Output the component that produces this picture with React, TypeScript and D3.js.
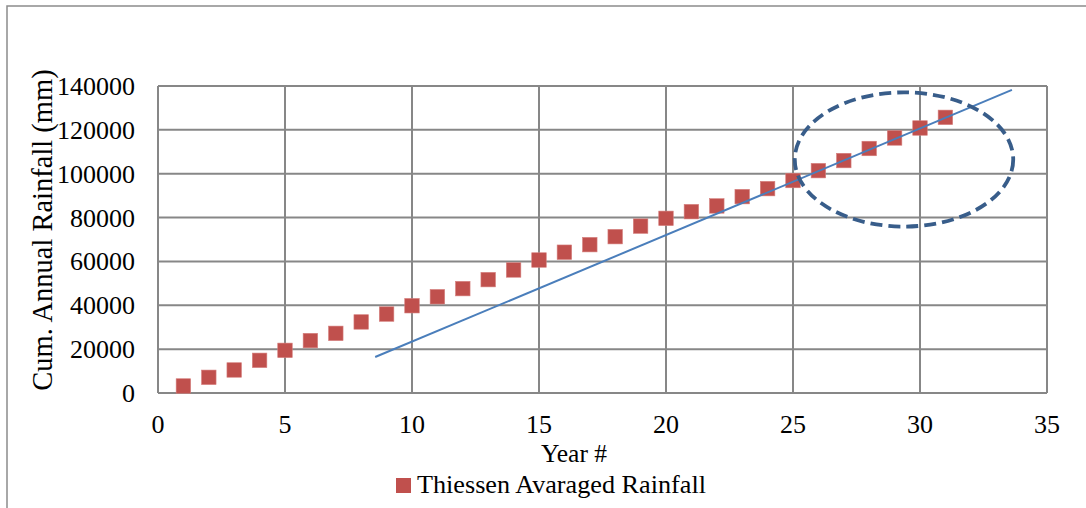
import React, { useEffect, useRef } from "react";
import * as d3 from "d3";

const years: number[] = Array.from({ length: 31 }, (_, i) => i + 1);
const cumRainfall: number[] = [
  3200, 7150, 10500, 14900, 19450, 23900, 27200, 32400, 36000, 39800,
  43900, 47600, 51700, 56100, 60650, 64200, 67650, 71300, 76100, 79650,
  82700, 85300, 89550, 93200, 96900, 101400, 106000, 111500, 116300, 120850,
  125700,
];
const trendX: number[] = [8.55, 33.62];
const trendY: number[] = [16400, 138200];
const ellipseCenter: number[] = [29.37, 106500];
const ellipseRadii: number[] = [4.3, 30600];
const xTicks: number[] = [0, 5, 10, 15, 20, 25, 30, 35];
const yTicks: number[] = [0, 20000, 40000, 60000, 80000, 100000, 120000, 140000];
const seriesName = "Thiessen Avaraged Rainfall";
const xTitle = "Year #";
const yTitle = "Cum. Annual Rainfall (mm)";

const W = 1086;
const H = 508;
const L = 158, R = 1047, T = 86, B = 393;
const FONT = "'Liberation Serif', 'Times New Roman', serif";

export default function App() {
  const ref = useRef<SVGSVGElement>(null);
  useEffect(() => {
    const svg = d3.select(ref.current);
    svg.selectAll("*").remove();
    const x = d3.scaleLinear().domain([0, 35]).range([L, R]);
    const y = d3.scaleLinear().domain([0, 140000]).range([B, T]);

    svg.append("rect").attr("x", 0).attr("y", 0).attr("width", W).attr("height", H).attr("fill", "#fff");
    svg.append("rect").attr("x", 7).attr("y", 6).attr("width", W + 20).attr("height", H + 20)
      .attr("fill", "none").attr("stroke", "#8c8c8c").attr("stroke-width", 1.5);

    const grid = svg.append("g").attr("stroke", "#878787").attr("stroke-width", 2);
    yTicks.forEach((t) => {
      grid.append("line").attr("x1", L).attr("x2", R).attr("y1", y(t)).attr("y2", y(t));
    });
    xTicks.forEach((t) => {
      grid.append("line").attr("x1", x(t)).attr("x2", x(t)).attr("y1", T).attr("y2", B);
    });

    const yl = svg.append("g").attr("font-family", FONT).attr("font-size", 26).attr("fill", "#000");
    yTicks.forEach((t) => {
      yl.append("text").attr("x", 135).attr("y", y(t) + 9).attr("text-anchor", "end").text(String(t));
    });
    xTicks.forEach((t) => {
      yl.append("text").attr("x", x(t)).attr("y", 433).attr("text-anchor", "middle").text(String(t));
    });
    yl.append("text").attr("x", 574).attr("y", 462).attr("text-anchor", "middle").attr("font-size", 25.5).text(xTitle);
    yl.append("text")
      .attr("transform", `translate(52,230) rotate(-90)`)
      .attr("text-anchor", "middle").attr("font-size", 28.5).text(yTitle);

    // markers
    const sz = 14.5;
    svg.append("g").selectAll("rect").data(years).join("rect")
      .attr("x", (d) => x(d) - sz / 2)
      .attr("y", (d, i) => y(cumRainfall[i]) - sz / 2)
      .attr("width", sz).attr("height", sz)
      .attr("fill", "#c0504d").attr("stroke", "#d57e7c").attr("stroke-width", 0.6);

    // trend line
    const line = d3.line<number>().x((d) => x(d)).y((d, i) => y(trendY[i]));
    svg.append("path").attr("d", line(trendX) as string).attr("fill", "none")
      .attr("stroke", "#4a7ebb").attr("stroke-width", 2);

    // ellipse
    svg.append("ellipse")
      .attr("cx", x(ellipseCenter[0])).attr("cy", y(ellipseCenter[1]))
      .attr("rx", x(ellipseRadii[0]) - x(0)).attr("ry", y(0) - y(ellipseRadii[1]))
      .attr("fill", "none").attr("stroke", "#385d8a").attr("stroke-width", 3.8)
      .attr("stroke-dasharray", "12 6");

    // legend
    svg.append("rect").attr("x", 396).attr("y", 478).attr("width", 15).attr("height", 15).attr("fill", "#c0504d");
    svg.append("text").attr("x", 417).attr("y", 493).attr("font-family", FONT).attr("font-size", 26.2)
      .attr("fill", "#000").text(seriesName);
  }, []);
  return (
    <svg ref={ref} width={W} height={H} style={{ position: "absolute", left: 0, top: 0, display: "block" }} />
  );
}
